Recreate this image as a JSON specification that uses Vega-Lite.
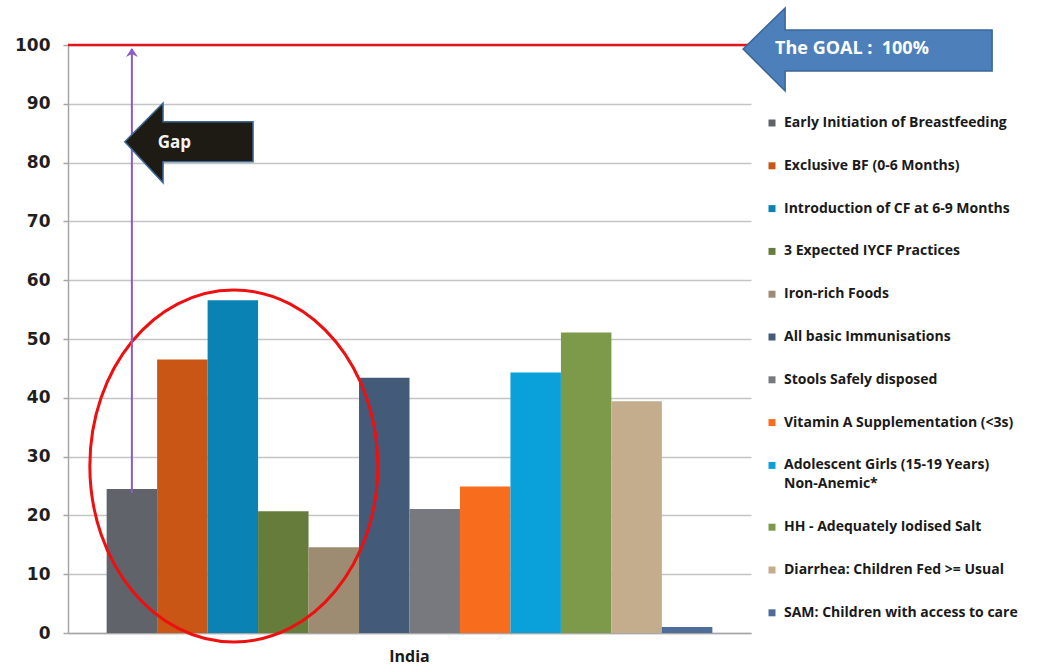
{
  "$schema": "https://vega.github.io/schema/vega-lite/v6.json",
  "width": 683,
  "height": 588,
  "autosize": {"type": "none"},
  "padding": {"left": 68, "top": 45, "right": 294, "bottom": 34},
  "background": "white",
  "config": {
    "view": {"stroke": null},
    "font": "Lato",
    "axis": {"gridColor": "#c4c4c4", "gridWidth": 1.5, "domainColor": "#a6a6a6", "domainWidth": 1.5, "tickColor": "#a6a6a6", "tickWidth": 1.5},
    "legend": {"orient": "none", "legendX": 697, "legendY": 71, "padding": 0, "rowPadding": 28.8, "symbolType": "square", "symbolSize": 49, "symbolStrokeWidth": 0, "labelFont": "Open Sans", "labelFontWeight": "bold", "labelFontSize": 14, "labelColor": "#1a1a1a", "labelOffset": 5, "labelLimit": 320}
  },
  "datasets": {
    "bars": [
      {"country": "India", "indicator": "Early Initiation of Breastfeeding", "value": 24.5},
      {"country": "India", "indicator": "Exclusive BF (0-6 Months)", "value": 46.5},
      {"country": "India", "indicator": "Introduction of CF at 6-9 Months", "value": 56.6},
      {"country": "India", "indicator": "3 Expected IYCF Practices", "value": 20.7},
      {"country": "India", "indicator": "Iron-rich Foods", "value": 14.6},
      {"country": "India", "indicator": "All basic Immunisations", "value": 43.4},
      {"country": "India", "indicator": "Stools Safely disposed", "value": 21.1},
      {"country": "India", "indicator": "Vitamin A Supplementation (<3s)", "value": 24.9},
      {"country": "India", "indicator": "Adolescent Girls (15-19 Years) Non-Anemic*", "value": 44.3},
      {"country": "India", "indicator": "HH - Adequately Iodised Salt", "value": 51.1},
      {"country": "India", "indicator": "Diarrhea: Children Fed >= Usual", "value": 39.4},
      {"country": "India", "indicator": "SAM: Children with access to care", "value": 1.0}
    ],
    "goal": [{"goal": 100}],
    "gapline": [{"country": "India", "indicator": "Early Initiation of Breastfeeding", "from": 23.8, "to": 99.3, "tip": 99.5}],
    "circle": [{"country": "India", "indicator": "Introduction of CF at 6-9 Months", "y": 28.4}],
    "gaparrow": [{"country": "India", "indicator": "Exclusive BF (0-6 Months)", "y": 83.55, "label": "Gap"}],
    "goalarrow": [{"country": "India", "indicator": "SAM: Children with access to care", "y": 100, "label": "The GOAL :\u00a0 100%"}]
  },
  "layer": [
    {
      "data": {"name": "bars"},
      "mark": {"type": "bar"},
      "encoding": {
        "x": {"field": "country", "type": "nominal", "scale": {"paddingInner": 0, "paddingOuter": 0.0638},
          "axis": {"title": null, "labelAngle": 0, "ticks": false, "labelPadding": 15, "labelFont": "Open Sans", "labelFontSize": 16, "labelFontWeight": "bold", "labelColor": "#1a1a1a"}},
        "xOffset": {"field": "indicator", "type": "nominal", "scale": {"paddingInner": 0, "paddingOuter": 0, "domain": [
          "Early Initiation of Breastfeeding", "Exclusive BF (0-6 Months)", "Introduction of CF at 6-9 Months", "3 Expected IYCF Practices", "Iron-rich Foods", "All basic Immunisations", "Stools Safely disposed", "Vitamin A Supplementation (<3s)", "Adolescent Girls (15-19 Years) Non-Anemic*", "HH - Adequately Iodised Salt", "Diarrhea: Children Fed >= Usual", "SAM: Children with access to care"]}},
        "y": {"field": "value", "type": "quantitative", "scale": {"domain": [0, 100], "nice": false},
          "axis": {"title": null, "values": [0, 10, 20, 30, 40, 50, 60, 70, 80, 90, 100], "tickSize": 5, "labelPadding": 13, "labelFont": "DejaVu Sans", "labelFontWeight": "bold", "labelFontSize": 17, "labelColor": "#1f1f1f", "grid": true}},
        "color": {"field": "indicator", "type": "nominal",
          "scale": {"domain": [
            "Early Initiation of Breastfeeding", "Exclusive BF (0-6 Months)", "Introduction of CF at 6-9 Months", "3 Expected IYCF Practices", "Iron-rich Foods", "All basic Immunisations", "Stools Safely disposed", "Vitamin A Supplementation (<3s)", "Adolescent Girls (15-19 Years) Non-Anemic*", "HH - Adequately Iodised Salt", "Diarrhea: Children Fed >= Usual", "SAM: Children with access to care"],
            "range": ["#606369", "#c95614", "#0a82b4", "#657c3b", "#9e8c72", "#435a79", "#77797e", "#f76d1d", "#0aa0da", "#7d9a4b", "#c3ad8c", "#4d6c99"]},
          "legend": {"title": null, "labelExpr": "datum.label == 'Adolescent Girls (15-19 Years) Non-Anemic*' ? ['Adolescent Girls (15-19 Years)', 'Non-Anemic*'] : datum.label",
            "encoding": {"labels": {"lineHeight": {"value": 19}}}}}
      }
    },
    {
      "data": {"name": "goal"},
      "mark": {"type": "rule", "color": "#e3141c", "strokeWidth": 2.5},
      "encoding": {"y": {"field": "goal", "type": "quantitative"}}
    },
    {
      "data": {"name": "circle"},
      "mark": {"type": "point", "shape": "M -143 0 A 144 176 0 1 0 145 0 A 144 176 0 1 0 -143 0 Z", "size": 4, "filled": false, "stroke": "#ee1010", "strokeWidth": 3, "opacity": 1},
      "encoding": {
        "x": {"field": "country", "type": "nominal"},
        "xOffset": {"field": "indicator", "type": "nominal"},
        "y": {"field": "y", "type": "quantitative"}
      }
    },
    {
      "data": {"name": "gapline"},
      "mark": {"type": "rule", "color": "#8b5cc6", "strokeWidth": 2},
      "encoding": {
        "x": {"field": "country", "type": "nominal"},
        "xOffset": {"field": "indicator", "type": "nominal"},
        "y": {"field": "from", "type": "quantitative"},
        "y2": {"field": "to"}
      }
    },
    {
      "data": {"name": "gapline"},
      "mark": {"type": "point", "shape": "M 0 0 L 6 9 L 0 6 L -6 9 Z", "size": 4, "filled": true, "color": "#8b5cc6", "opacity": 1},
      "encoding": {
        "x": {"field": "country", "type": "nominal"},
        "xOffset": {"field": "indicator", "type": "nominal"},
        "y": {"field": "tip", "type": "quantitative"}
      }
    },
    {
      "data": {"name": "gaparrow"},
      "mark": {"type": "point", "shape": "M -57.6 0 L -19.3 -38.7 L -19.3 -20 L 70.7 -20 L 70.7 20 L -19.3 20 L -19.3 41 Z", "size": 4, "filled": true, "fill": "#1d1b13", "stroke": "#3f6a96", "strokeWidth": 1.5, "opacity": 1},
      "encoding": {
        "x": {"field": "country", "type": "nominal"},
        "xOffset": {"field": "indicator", "type": "nominal"},
        "y": {"field": "y", "type": "quantitative"}
      }
    },
    {
      "data": {"name": "gaparrow"},
      "mark": {"type": "text", "color": "#f4f4f4", "font": "Open Sans", "fontWeight": "bold", "fontSize": 17, "dx": -8, "dy": 1, "align": "center", "baseline": "middle"},
      "encoding": {
        "x": {"field": "country", "type": "nominal"},
        "xOffset": {"field": "indicator", "type": "nominal"},
        "y": {"field": "y", "type": "quantitative"},
        "text": {"field": "label"}
      }
    },
    {
      "data": {"name": "goalarrow"},
      "mark": {"type": "point", "shape": "M 56 4 L 98 -37 L 98 -15 L 305 -15 L 305 26 L 98 26 L 98 46 Z", "size": 4, "filled": true, "fill": "#4d7fba", "stroke": "#3b6698", "strokeWidth": 1.5, "opacity": 1},
      "encoding": {
        "x": {"field": "country", "type": "nominal"},
        "xOffset": {"field": "indicator", "type": "nominal"},
        "y": {"field": "y", "type": "quantitative"}
      }
    },
    {
      "data": {"name": "goalarrow"},
      "mark": {"type": "text", "color": "white", "font": "Open Sans", "fontWeight": "bold", "fontSize": 18, "dx": 88, "dy": 4, "align": "left", "baseline": "middle"},
      "encoding": {
        "x": {"field": "country", "type": "nominal"},
        "xOffset": {"field": "indicator", "type": "nominal"},
        "y": {"field": "y", "type": "quantitative"},
        "text": {"field": "label"}
      }
    }
  ]
}
